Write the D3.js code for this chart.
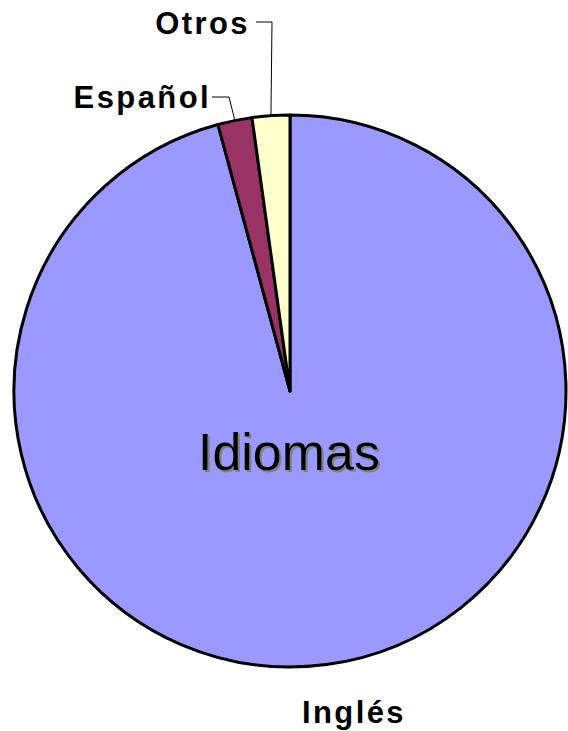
<!DOCTYPE html>
<html>
<head>
<meta charset="utf-8">
<script src="https://cdn.jsdelivr.net/npm/d3@7"></script>
<style>
  body { margin: 0; background: #fff; }
  svg { display: block; }
</style>
</head>
<body>
<div id="canvas"></div>
<script>
(function(){

    // data (percent)
    var idiomas = ["Inglés", "Español", "Otros"];
    var valores = [95.8, 2.0, 2.2];
    var colores = ["#9999ff", "#993366", "#ffffcc"];
    var titulo = "Idiomas";

    var width = 568, height = 731;
    var cx = 290, cy = 391, radius = 276;

    var svg = d3.select("#canvas").append("svg")
        .attr("width", width).attr("height", height);

    // grey drop shadow for the centre title
    var f = svg.append("defs").append("filter")
        .attr("id", "sombra").attr("x", "-10%").attr("y", "-10%")
        .attr("width", "130%").attr("height", "130%");
    f.append("feOffset").attr("in", "SourceAlpha").attr("dx", 2).attr("dy", 2).attr("result", "off");
    f.append("feFlood").attr("flood-color", "#808080").attr("result", "gris");
    f.append("feComposite").attr("in", "gris").attr("in2", "off").attr("operator", "in").attr("result", "sh");
    var m = f.append("feMerge");
    m.append("feMergeNode").attr("in", "sh");
    m.append("feMergeNode").attr("in", "SourceGraphic");

    var pie = d3.pie().sort(null).value(function(d){ return d; });
    var arc = d3.arc().innerRadius(0).outerRadius(radius);
    var slices = pie(valores);

    var g = svg.append("g").attr("transform", "translate(" + cx + "," + cy + ")");

    g.selectAll("path.slice")
        .data(slices)
        .enter().append("path")
        .attr("class", "slice")
        .attr("d", arc)
        .attr("fill", function(d, i){ return colores[i]; })
        .attr("stroke", "#000")
        .attr("stroke-width", 3)
        .attr("stroke-linejoin", "round");

    svg.append("text")
        .attr("x", cx - 1).attr("y", 470)
        .attr("text-anchor", "middle")
        .attr("font-family", "Liberation Sans, Arial, sans-serif")
        .attr("font-size", 52)
        .attr("fill", "#000")
        .attr("filter", "url(#sombra)")
        .text(titulo);

    // labels + leader lines
    function puntoBorde(d, r){
        var a = (d.startAngle + d.endAngle) / 2;
        return [Math.sin(a) * r, -Math.cos(a) * r];
    }

    function label(txt, x, y, anchor){
        return svg.append("text")
            .attr("x", x).attr("y", y)
            .attr("text-anchor", anchor)
            .attr("font-family", "Liberation Sans, Arial, sans-serif")
            .attr("font-size", 31)
            .attr("font-weight", "bold")
            .attr("letter-spacing", 2.4)
            .text(txt);
    }

    // Inglés: below the pie
    label(idiomas[0], 354, 723, "middle");

    // Español
    var pE = puntoBorde(slices[1], radius);
    svg.append("polyline")
        .attr("points", [[212, 97], [229, 97], [cx + pE[0], cy + pE[1]]].join(" "))
        .attr("fill", "none").attr("stroke", "#000").attr("stroke-width", 1);
    label(idiomas[1], 211, 108, "end");

    // Otros
    var pO = puntoBorde(slices[2], radius);
    svg.append("polyline")
        .attr("points", [[256, 22], [272, 22], [cx + pO[0], cy + pO[1]]].join(" "))
        .attr("fill", "none").attr("stroke", "#000").attr("stroke-width", 1);
    label(idiomas[2], 250, 34, "end");

})();
</script>
</body>
</html>
